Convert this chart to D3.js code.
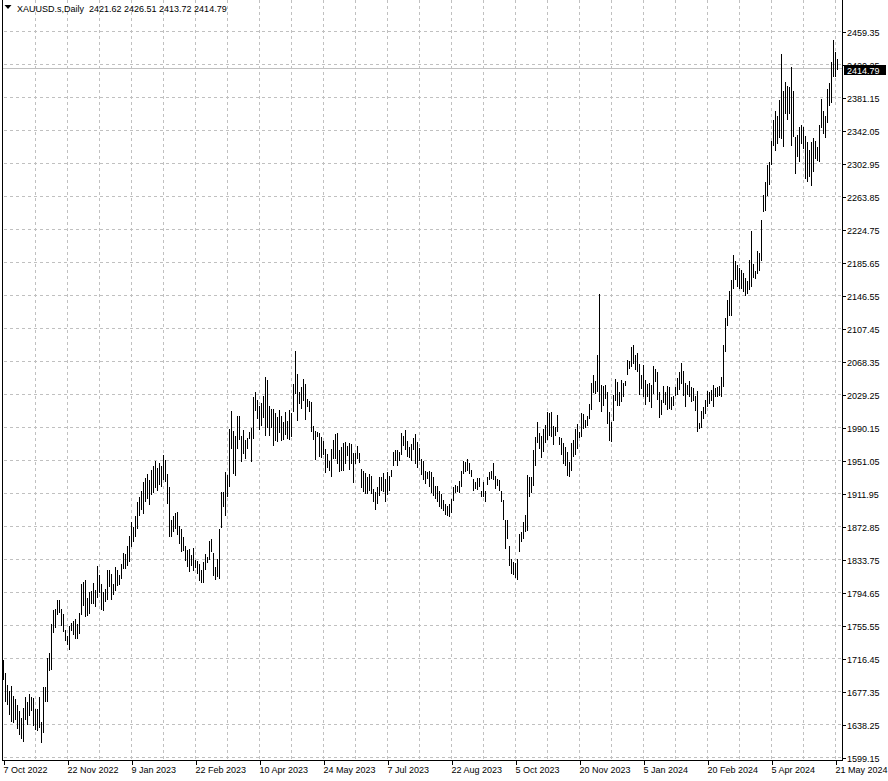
<!DOCTYPE html>
<html><head><meta charset="utf-8">
<script src="https://cdn.jsdelivr.net/npm/d3@7"></script>
<style>html,body{margin:0;padding:0;background:#fff;} svg{display:block;} text{font-family:"Liberation Sans",Arial,sans-serif;}</style>
</head><body><svg id="c" width="888" height="781"></svg>
<script>
const symbolName = "XAUUSD.s,Daily";
const highs = [
1715.0,1699.5,1684.5,1678.5,1683.3,1672.6,1669.0,1660.8,1654.4,1646.5,1658.0,1671.4,1665.5,1674.6,1671.4,1669.9,1656.8,1657.2,1670.3,1641.8,1682.5,1682.5,1717.2,1722.4,
1757.5,1774.1,1775.3,1786.0,1785.2,1774.9,1768.6,1750.4,1743.7,1755.2,1759.1,1760.3,1763.1,1757.5,1770.2,1804.2,1806.5,1809.7,1788.4,1794.7,1796.3,1805.7,1797.8,1825.5,1814.8,1805.0,1795.1,1799.0,1821.9,1821.5,1816.0,1805.0,
1825,1821,1815,1828,1842,1840,1850,1862,1878,1872,1885,1902,1908,1915,1925,1930,1935,1928,1940,1945,1950,1942,1948,1945,1957,1952,1935,
1919.4,1881.1,1885.0,1888.6,1890.6,1873.2,1870.0,1861.0,1850.3,1845.2,1846.4,1838.5,1847.5,1833.3,1831.7,1828.6,1821.5,1830.5,1840.4,1837.3,1856.2,1858.2,1841.2,1824.6,1834.5,1870.0,1913.5,1913.5,1938.0,1933.3,1988.5,2009.5,1985.8,1979.5,2003.2,2003.2,
1980.6,1986.6,1975.5,1977.9,1984.6,1989.7,2026.1,2032.4,2022.9,2016.2,2018.9,2028.0,2049.8,2046.6,2016.2,2012.2,2012.2,2007.5,2003.1,2011.0,2004.3,1996.4,2008.3,1998.4,2010.3,2007.1,2041.9,2080.6,2053.7,2032.0,2037.9,2047.8,2041.9,2024.1,2022.1,2020.1,1992.5,1985.8,1984.6,1983.4,1978.6,1974.7,1964.8,1958.9,1951.0,1964.8,1975.5,1982.6,1984.0,
1963.7,1967.6,1971.6,1972.8,1968.8,1971.6,1970.8,1960.5,1959.7,1968.8,1959.7,1941.2,1939.2,1936.0,1931.3,1934.5,1932.1,1917.5,1913.5,1919.5,1931.3,1931.3,1936.0,1929.3,1937.2,1932.1,1940.0,1960.9,1963.7,1963.7,1960.9,1984.2,1979.5,1987.4,1974.0,1966.9,1970.8,1977.9,1982.7,1972.8,1966.1,1953.0,1951.0,1939.2,1937.2,1938.4,1937.2,1931.3,1921.4,1921.4,1915.5,1911.6,1904.4,1899.7,1897.7,1899.7,1905.6,1920.2,1922.6,1921.4,1926.6,1939.2,1950.3,1949.1,1953.0,1947.9,1940.0,1929.3,1925.4,1930.5,1930.5,1915.5,1925.4,1915.5,1931.3,1937.2,1938.4,1947.9,1932.1,1929.3,1927.4,1915.5,1904.4,
1880.0,1880.0,1849.5,1834.5,1831.3,1829.8,1834.5,1864.1,1866.1,1878.0,1885.9,1933.3,1931.3,1931.3,1962.9,1978.7,1997.2,1983.8,1980.6,1987.8,1993.3,2009.1,2007.5,2008.3,1992.5,1990.5,2004.4,1978.7,1977.5,1972.0,1966.8,1961.7,1949.8,1972.0,1975.9,1987.8,1994.5,1985.4,2007.5,2006.3,1999.6,2003.6,2018.2,2043.1,2051.8,2045.8,2075.5,2148.5,2040.7,2039.1,2040.7,2032.8,2008.3,1996.4,2028.1,2047.8,2044.6,2032.8,2047.0,2043.1,2045.8,2070.7,2069.5,2085.3,2088.1,2075.5,2078.6,2065.6,2052.5,2064.4,2047.0,2041.9,2043.1,2040.7,2062.8,2058.9,2056.5,2032.0,2023.3,2039.9,2032.8,2039.1,2037.9,2026.1,2027.3,
2037.9,2048.9,2055.6,2066.3,2057.6,2042.6,2041.0,2045.0,2038.7,2037.1,2028.0,2033.9,1995.2,2009.4,2015.0,2022.9,2033.1,2032.0,2034.7,2041.0,2037.1,2038.7,2039.9,2050.5,2088.4,2120.0,2141.4,2152.4,2165.1,2195.1,2187.2,2182.1,2179.3,2176.9,2173.0,2167.4,2163.5,2188.8,2223.5,2184.0,2175.3,2199.8,2196.6,2236.1,2266.2,2280.8,2301.7,2304.5,2330.2,2354.6,2365.7,2359.8,2377.6,2432.1,2388.6,2399.3,2395.3,2393.4,2417.8,2388.6,2334.9,2337.3,2346.0,2348.0,2346.0,2336.1,2328.2,2319.1,2328.2,2333.3,2330.2,2322.3,2348.0,2379.5,2364.9,2359.8,2391.4,2398.1,2423.0,2449.4,2434.8,2426.51
];
const lows = [
1690.4,1665.5,1660.8,1650.0,1641.8,1640.6,1643.0,1633.1,1626.4,1621.3,1617.3,1643.8,1637.9,1648.5,1654.8,1637.0,1632.0,1630.4,1634.3,1616.1,1628.0,1664.7,1664.7,1702.2,
1703.0,1746.9,1752.4,1767.4,1770.2,1755.2,1747.7,1736.6,1732.7,1726.7,1748.5,1744.1,1739.4,1739.4,1744.9,1767.4,1778.5,1765.4,1767.0,1768.6,1780.5,1781.2,1776.9,1788.4,1793.9,1774.1,1773.3,1783.6,1786.0,1801.0,1785.2,1791.1,
1797,1802,1804,1811,1823,1822,1826,1831,1848,1855,1860,1870,1885,1892,1888,1902,1905,1898,1910,1912,1918,1915,1922,1920,1928,1925,1900,
1861.0,1860.2,1866.0,1870.0,1863.0,1852.3,1843.2,1844.4,1831.8,1825.4,1818.7,1825.8,1820.7,1823.4,1816.7,1808.0,1806.0,1805.7,1821.5,1829.4,1833.3,1843.2,1814.0,1809.6,1812.8,1810.8,1871.2,1896.5,1884.7,1907.6,1919.4,1964.9,1935.2,1933.2,1964.9,1975.5,
1949.0,1958.9,1953.0,1964.8,1976.7,1949.0,1976.3,2009.5,2000.0,1987.3,1992.1,2001.6,1980.6,1989.7,1980.6,1989.7,1968.8,1974.7,1972.7,1983.4,1973.9,1975.5,1981.8,1976.3,1975.5,1978.6,2008.3,2030.0,1998.4,2018.1,2012.2,2022.1,1999.6,2014.2,2008.3,1984.6,1975.5,1951.8,1978.6,1955.7,1954.2,1957.3,1936.4,1942.3,1939.1,1931.3,1953.0,1952.6,1947.1,
1937.2,1939.2,1939.2,1947.1,1955.8,1940.0,1947.1,1924.2,1947.1,1953.0,1947.9,1918.7,1913.5,1911.6,1910.8,1915.5,1911.6,1901.7,1892.6,1899.7,1908.4,1914.7,1913.5,1901.7,1909.6,1914.7,1931.3,1944.0,1951.0,1945.1,1950.3,1957.0,1968.8,1963.7,1955.0,1954.2,1951.0,1963.7,1947.1,1942.4,1951.0,1933.3,1927.4,1923.4,1929.3,1919.5,1912.3,1908.4,1905.6,1901.7,1895.8,1893.8,1891.8,1885.9,1884.7,1883.9,1888.7,1902.9,1912.3,1913.5,1912.3,1920.2,1934.5,1937.2,1938.4,1934.5,1931.3,1915.5,1917.5,1916.3,1919.5,1907.6,1907.6,1901.7,1922.6,1928.1,1929.3,1927.4,1917.5,1921.4,1915.5,1901.7,1880.0,
1846.4,1858.2,1826.6,1816.7,1814.8,1811.6,1810.0,1843.2,1854.3,1858.2,1866.9,1868.1,1907.6,1912.7,1921.4,1944.3,1971.8,1964.1,1953.8,1961.7,1971.8,1975.9,1979.9,1978.7,1969.6,1979.9,1984.6,1969.6,1957.0,1947.1,1945.1,1932.5,1931.3,1939.2,1955.0,1957.0,1964.9,1977.5,1978.7,1987.8,1989.3,1992.5,2000.4,2010.3,2031.2,2030.0,2032.8,2020.2,2009.1,2016.2,2024.1,1994.5,1974.7,1972.8,1998.4,2022.1,2015.4,2015.4,2020.9,2026.1,2039.1,2052.5,2059.6,2061.6,2065.6,2057.7,2055.7,2028.9,2035.9,2026.1,2017.0,2026.1,2020.2,2013.0,2030.0,2044.6,2023.3,2001.2,2005.2,2019.4,2017.0,2010.3,2011.5,2010.3,2015.4,
2028.0,2029.2,2034.7,2041.8,2028.0,2014.2,2029.2,2026.0,2020.1,2021.3,2010.2,1984.6,1988.5,1989.7,2000.4,2006.3,2014.2,2018.1,2021.3,2015.0,2026.8,2026.8,2028.0,2026.8,2038.7,2079.3,2110.9,2122.8,2122.8,2154.4,2165.1,2157.2,2154.4,2154.4,2150.4,2146.5,2148.5,2153.2,2156.4,2167.4,2166.2,2172.2,2176.1,2187.2,2245.2,2246.4,2265.0,2278.0,2301.7,2324.2,2318.3,2326.2,2333.3,2332.1,2323.0,2361.8,2354.6,2361.8,2324.2,2334.9,2290.7,2311.2,2304.5,2326.2,2320.3,2284.7,2280.8,2286.7,2276.8,2292.6,2308.4,2306.5,2304.5,2345.2,2338.1,2333.3,2350.7,2371.6,2374.4,2406.0,2405.2,2413.72
];
const lastOpen = 2421.62, lastClose = 2414.79;
const yTickValues = [1599.15,1638.25,1677.35,1716.45,1755.55,1794.65,1833.75,1872.85,1911.95,1951.05,1990.15,2029.25,2068.35,2107.45,2146.55,2185.65,2224.75,2263.85,2302.95,2342.05,2381.15,2420.25,2459.35];
const xTickLabels = ["7 Oct 2022","22 Nov 2022","9 Jan 2023","22 Feb 2023","10 Apr 2023","24 May 2023","7 Jul 2023","22 Aug 2023","5 Oct 2023","20 Nov 2023","5 Jan 2024","20 Feb 2024","5 Apr 2024","21 May 2024"];
const barsPerLabel = 32, barsPerGrid = 16;

const svg = d3.select("#c");
const n = highs.length;
const plotL = 2.5, plotR = 842.5, plotB = 760.5;
const x = d3.scaleLinear().domain([0, n - 1]).range([3.5, 3.5 + 2 * (n - 1)]);
const y = d3.scaleLinear().domain([1599.15, 2459.35]).range([757.5, 31.5]);
const gridColor = "#c0c0c0";
const fmt = d3.format(".2f");

svg.append("rect").attr("width", 888).attr("height", 781).attr("fill", "#fff");

// horizontal grid
svg.append("g").selectAll("line").data(yTickValues).join("line")
  .attr("x1", plotL + 1).attr("x2", plotR)
  .attr("y1", d => y(d)).attr("y2", d => y(d))
  .attr("stroke", gridColor).attr("stroke-dasharray", "3,3").attr("shape-rendering", "crispEdges");
// vertical grid
const gridIdx = d3.range(barsPerGrid, n, barsPerGrid);
svg.append("g").selectAll("line").data(gridIdx).join("line")
  .attr("x1", d => x(d)).attr("x2", d => x(d))
  .attr("y1", 0).attr("y2", plotB)
  .attr("stroke", gridColor).attr("stroke-dasharray", "3,3").attr("shape-rendering", "crispEdges");

// price line
const py = Math.round(y(lastClose)) - 1;
svg.append("line").attr("x1", plotL).attr("x2", plotR)
  .attr("y1", py + 0.5).attr("y2", py + 0.5)
  .attr("stroke", "#c0c0c0").attr("shape-rendering", "crispEdges");

// bars
svg.append("g").selectAll("line").data(highs).join("line")
  .attr("x1", (d, i) => x(i)).attr("x2", (d, i) => x(i))
  .attr("y1", d => y(d)).attr("y2", (d, i) => y(lows[i]))
  .attr("stroke", "#000").attr("stroke-width", 1).attr("shape-rendering", "crispEdges");

// frame
svg.append("line").attr("x1", plotL).attr("x2", plotL).attr("y1", 0).attr("y2", plotB)
  .attr("stroke", "#000").attr("shape-rendering", "crispEdges");

// right axis
const yAxis = d3.axisRight(y).tickValues(yTickValues).tickSize(3).tickSizeOuter(0).tickPadding(1.5).tickFormat(fmt);
const gy = svg.append("g").attr("transform", `translate(${plotR},0)`).call(yAxis);
gy.select(".domain").remove();
gy.selectAll("line").attr("stroke", "#000").attr("shape-rendering", "crispEdges");
gy.selectAll("text").attr("dy", "3.5px").attr("fill", "#000").style("font-size", "9px").style("font-family", '"Liberation Sans",Arial,sans-serif');
svg.append("line").attr("x1", plotR).attr("x2", plotR).attr("y1", 0).attr("y2", plotB)
  .attr("stroke", "#000").attr("shape-rendering", "crispEdges");

// bottom axis
const labelIdx = xTickLabels.map((d, k) => k * barsPerLabel);
const xAxis = d3.axisBottom(x).tickValues(labelIdx).tickSize(4).tickSizeOuter(0)
  .tickFormat(i => xTickLabels[i / barsPerLabel]);
const gx = svg.append("g").attr("transform", `translate(0,${plotB})`).call(xAxis);
gx.select(".domain").remove();
gx.selectAll("line").attr("stroke", "#000").attr("shape-rendering", "crispEdges");
gx.selectAll("text").attr("text-anchor", "start").attr("x", -0.5).attr("y", 12.5).attr("dy", null)
  .attr("fill", "#000").style("font-size", "9px").style("font-family", '"Liberation Sans",Arial,sans-serif');
svg.append("line").attr("x1", plotL).attr("x2", plotR).attr("y1", plotB).attr("y2", plotB)
  .attr("stroke", "#000").attr("shape-rendering", "crispEdges");

// current price label (covers the neighbouring axis label, as in the terminal)
svg.append("rect").attr("x", 844).attr("y", py - 3).attr("width", 42).attr("height", 10).attr("fill", "#000");
svg.append("text").attr("x", 847).attr("y", py + 5.5).attr("fill", "#fff")
  .style("font-size", "9px").text(fmt(lastClose));

// header
svg.append("path").attr("d", "M4.5,5 L11.5,5 L8,9 Z").attr("fill", "#000");
const ohlc = [lastOpen, highs[n - 1], lows[n - 1], lastClose];
svg.append("text").attr("x", 17).attr("y", 12).attr("fill", "#000")
  .style("font-size", "9px").style("white-space", "pre").attr("xml:space", "preserve")
  .text(symbolName + "  " + ohlc.map(fmt).join(" "));
</script></body></html>
